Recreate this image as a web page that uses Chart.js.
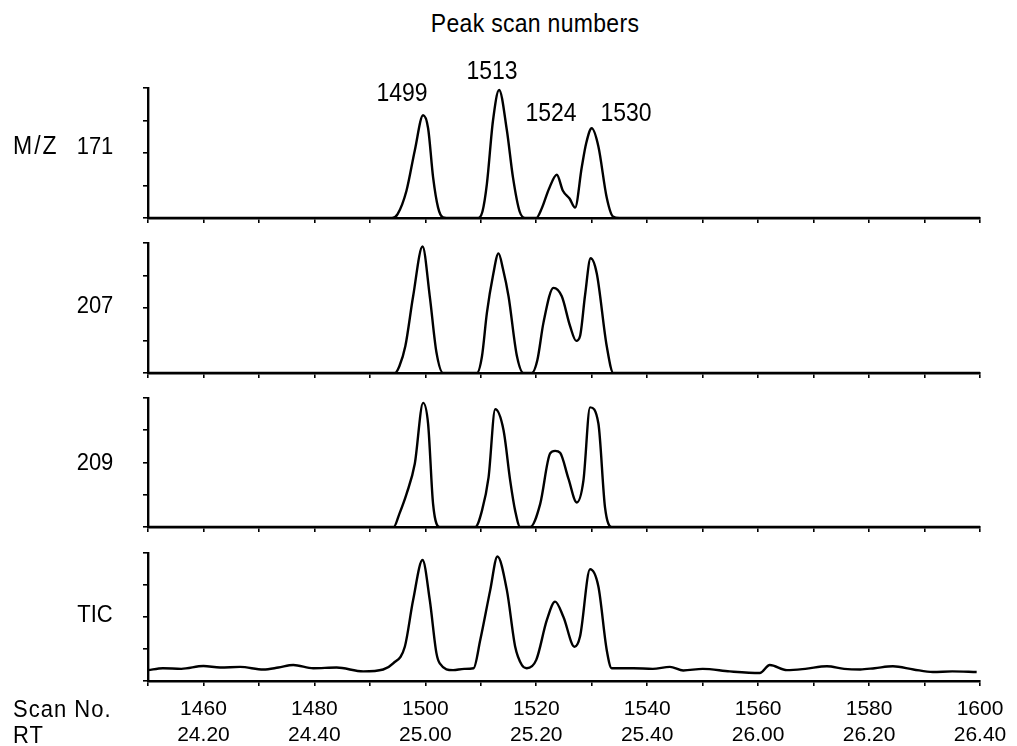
<!DOCTYPE html>
<html>
<head>
<meta charset="utf-8">
<title>Peak scan numbers</title>
<script src="https://cdn.jsdelivr.net/npm/chart.js@4.4.1/dist/chart.umd.min.js"></script>
<style>
  html, body { margin: 0; padding: 0; background: #fff; }
  #wrap { position: relative; width: 1017px; height: 746px; overflow: hidden;
          font-family: "Liberation Sans", Arial, sans-serif; color: #000; }
  canvas { position: absolute; left: 0; }
  .lbl { position: absolute; white-space: nowrap; line-height: 1; transform: translate(-50%, -50%) scaleY(1.12); }
  .lbl.left { transform: translate(0, -50%) scaleY(1.12); }
</style>
</head>
<body>
<div id="wrap"></div>
<script>
// scan numbers / relative intensity (0..4 = axis ticks)
const scan171 = [1450,1494,1495,1496.6,1498.1,1499.6,1500.5,1501.4,1502.3,1503.2,1504.5,1509.5,1510.3,1511.1,1512.2,1513.3,1514.7,1515.8,1517,1518,1520,1521,1522.3,1523.7,1524.8,1526,1527,1528.2,1529,1530,1531.2,1532.7,1533.8,1535,1600];
const int171  = [0,0,0.12,0.84,2.08,3.16,2.76,1.25,0.32,0.02,0,0,0.2,1.05,3.0,3.94,2.7,1.25,0.2,0,0,0.3,0.9,1.33,0.84,0.6,0.32,1.56,2.3,2.76,2.2,0.63,0.05,0,0];

const scan207 = [1450,1494.5,1495.3,1496.4,1497.8,1499.5,1500.8,1502,1503.2,1509.3,1510.2,1511.1,1512.2,1513.2,1514,1515,1516.5,1517.7,1519.2,1520.2,1521.3,1523.1,1524.6,1526.1,1527.2,1527.9,1528.8,1529.8,1530.9,1532.7,1533.9,1600];
const int207  = [0,0,0.2,0.83,2.36,3.89,2.36,0.64,0,0,0.5,1.85,3.0,3.68,3.2,2.36,0.53,0,0,0.4,1.55,2.62,2.36,1.44,0.99,1.14,2.4,3.53,3.07,0.83,0,0];

const scan209 = [1450,1494.3,1495.3,1496.6,1498.1,1499.6,1500.5,1501.4,1502.6,1509,1510.2,1511.4,1512.6,1514.1,1515.3,1516.2,1517.1,1518.9,1520.7,1522.5,1523.4,1524.3,1525.8,1527.3,1528.5,1529.7,1531.2,1532.4,1533.6,1600];
const int209  = [0,0,0.4,1.02,1.96,3.85,3.2,0.71,0,0,0.5,1.54,3.65,3.0,1.44,0.5,0,0,0.71,2.28,2.36,2.3,1.5,0.76,1.44,3.71,3.21,0.6,0,0];

const scanTic = [1450,1452.7,1456,1460,1463,1466.6,1470.8,1473.5,1476.2,1479.8,1484,1488.8,1492.4,1494.2,1496.3,1497.8,1499.5,1500.8,1502,1502.6,1505,1507,1508.7,1509.9,1511.7,1513,1514.7,1516.2,1517.4,1518.3,1520,1521.9,1523.4,1524.9,1526.9,1527.9,1529.7,1531.2,1532.7,1533.6,1537.5,1541,1544.1,1546.5,1550,1554.9,1560.3,1562.1,1565.2,1568.5,1572.4,1575.5,1578.4,1581,1584.3,1588,1591.5,1595,1599.4];
const intTic  = [0.34,0.4,0.38,0.47,0.42,0.44,0.36,0.42,0.5,0.4,0.42,0.3,0.36,0.55,1.07,2.53,3.78,2.53,0.87,0.55,0.34,0.38,0.4,1.28,2.84,3.89,2.84,1.07,0.5,0.4,0.66,1.9,2.48,2.0,1.07,1.4,3.49,2.95,0.97,0.4,0.4,0.38,0.44,0.33,0.38,0.3,0.25,0.5,0.34,0.38,0.46,0.38,0.36,0.4,0.46,0.36,0.28,0.3,0.28];

// x axis labels
const scanTicks = [1460,1480,1500,1520,1540,1560,1580,1600];
const rtTicks = ['24.20','24.40','25.00','25.20','25.40','26.00','26.20','26.40'];

const panelNames = ['171','207','209','TIC'];
const peakLabels = ['1499','1513','1524','1530'];

const ink = '#000';
const wrap = document.getElementById('wrap');

// panel boxes on the page (chart area top / bottom)
const panels = [
    { xs: scan171, ys: int171, top: 88,  bottom: 218 },
    { xs: scan207, ys: int207, top: 243, bottom: 373 },
    { xs: scan209, ys: int209, top: 398, bottom: 527 },
    { xs: scanTic, ys: intTic, top: 553, bottom: 681 }
];

function makePanel(p, isLast) {
    const axisH = isLast ? 65 : 8;
    const canvas = document.createElement('canvas');
    canvas.width = 1017;
    canvas.height = (p.bottom - p.top) + 6 + axisH;
    canvas.style.top = (p.top - 6) + 'px';
    wrap.appendChild(canvas);

    new Chart(canvas, {
        type: 'line',
        data: {
            datasets: [{
                data: p.xs.map((x, i) => ({ x: x, y: p.ys[i] })),
                borderColor: ink,
                borderWidth: 2.4,
                pointRadius: 0,
                fill: false,
                cubicInterpolationMode: 'monotone'
            }]
        },
        options: {
            responsive: false,
            animation: false,
            events: [],
            layout: { padding: { left: 140, right: 37, top: 6, bottom: 0 } },
            plugins: { legend: { display: false }, tooltip: { enabled: false } },
            scales: {
                x: {
                    type: 'linear',
                    min: 1450,
                    max: 1600,
                    afterFit: s => { s.height = axisH; },
                    ticks: {
                        display: isLast,
                        stepSize: 10,
                        autoSkip: false,
                        maxRotation: 0,
                        padding: 10,
                        color: ink,
                        font: { family: '"Liberation Sans", Arial, sans-serif', size: 21, lineHeight: 1.25 },
                        callback: v => {
                            const i = scanTicks.indexOf(v);
                            return i < 0 ? '' : [String(scanTicks[i]), rtTicks[i]];
                        }
                    },
                    grid: { drawOnChartArea: false, tickLength: 5, color: ink, lineWidth: 1.6 },
                    border: { color: ink, width: 2.4 }
                },
                y: {
                    min: 0,
                    max: 4,
                    afterFit: s => { s.width = 8; },
                    ticks: { display: false, stepSize: 1 },
                    grid: { drawOnChartArea: false, tickLength: 5, color: ink, lineWidth: 1.6 },
                    border: { color: ink, width: 2.4 }
                }
            }
        }
    });
}

panels.forEach((p, i) => makePanel(p, i === panels.length - 1));

// free text
function addText(text, x, y, size, cls, spacing) {
    const d = document.createElement('div');
    d.className = 'lbl' + (cls ? ' ' + cls : '');
    d.textContent = text;
    d.style.left = x + 'px';
    d.style.top = y + 'px';
    d.style.fontSize = size + 'px';
    if (spacing) d.style.letterSpacing = spacing + 'px';
    wrap.appendChild(d);
}

addText('Peak scan numbers', 535, 24, 23, null, 0.3);

const peakPos = [[402, 93], [492, 71], [551, 113], [626, 113]];
peakLabels.forEach((t, i) => addText(t, peakPos[i][0], peakPos[i][1], 23));

addText('M/Z', 13, 146, 23, 'left', 2);
const namePos = [146, 305, 462, 614];
panelNames.forEach((t, i) => addText(t, 95, namePos[i], 22));

addText('Scan No.', 13, 709, 22, 'left', 1);
addText('RT', 13, 735, 22, 'left', 1);
</script>
</body>
</html>
